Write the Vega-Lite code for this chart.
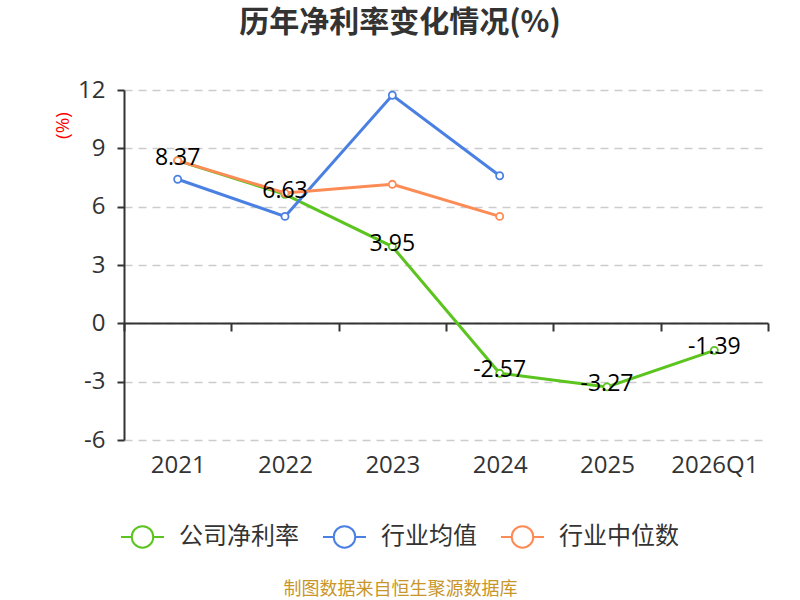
{
  "$schema": "https://vega.github.io/schema/vega-lite/v6.json",
  "autosize": {"type": "none"},
  "width": 644,
  "height": 350,
  "padding": {"left": 124, "top": 90, "right": 32, "bottom": 160},
  "background": "white",
  "config": {"font": "Open Sans, Noto Sans CJK SC", "view": {"stroke": null}},
  "title": {"text": "历年净利率变化情况(%)", "font": "Noto Sans CJK SC", "fontSize": 30, "fontWeight": "bold", "color": "#333333", "anchor": "middle", "dx": -46, "offset": 44, "baseline": "top", "dy": 4},
  "data": {"values": [
    {"year": "2021", "series": "公司净利率", "value": 8.37},
    {"year": "2022", "series": "公司净利率", "value": 6.63},
    {"year": "2023", "series": "公司净利率", "value": 3.95},
    {"year": "2024", "series": "公司净利率", "value": -2.57},
    {"year": "2025", "series": "公司净利率", "value": -3.27},
    {"year": "2026Q1", "series": "公司净利率", "value": -1.39},
    {"year": "2021", "series": "行业均值", "value": 7.41},
    {"year": "2022", "series": "行业均值", "value": 5.5},
    {"year": "2023", "series": "行业均值", "value": 11.73},
    {"year": "2024", "series": "行业均值", "value": 7.59},
    {"year": "2021", "series": "行业中位数", "value": 8.37},
    {"year": "2022", "series": "行业中位数", "value": 6.7},
    {"year": "2023", "series": "行业中位数", "value": 7.15},
    {"year": "2024", "series": "行业中位数", "value": 5.5}
  ]},
  "encoding": {
    "x": {
      "field": "year", "type": "ordinal", "sort": null,
      "scale": {"type": "band", "paddingInner": 0, "paddingOuter": 0, "domain": ["2021", "2022", "2023", "2024", "2025", "2026Q1"]},
      "axis": {
        "title": "制图数据来自恒生聚源数据库", "titleColor": "#c8962a", "titleFontSize": 18, "titleFontWeight": "normal", "titleFont": "Noto Sans CJK SC",
        "titleX": 276, "titleY": 266, "titleAlign": "center", "titleBaseline": "middle",
        "offset": -117, "domainColor": "#333333", "domainWidth": 2,
        "tickColor": "#333333", "tickWidth": 2, "tickSize": 8, "tickBand": "extent",
        "labelPadding": 122, "labelFontSize": 24, "labelColor": "#333333", "labelAngle": 0, "labelBaseline": "top", "grid": false
      }
    },
    "y": {
      "field": "value", "type": "quantitative",
      "scale": {"domain": [-6, 12], "nice": false, "zero": false},
      "axis": {
        "title": "(%)", "titleColor": "red", "titleFontSize": 19, "titleFontWeight": "normal", "titleAngle": -90,
        "titleX": -62, "titleY": 35, "titleAlign": "center", "titleBaseline": "middle",
        "values": [-6, -3, 0, 3, 6, 9, 12],
        "labelExpr": "replace(datum.label, '−', '-')",
        "domainColor": "#333333", "domainWidth": 2, "tickColor": "#333333", "tickWidth": 2, "tickSize": 7,
        "labelFontSize": 24, "labelColor": "#333333", "labelPadding": 12,
        "gridColor": "#cccccc", "gridDash": [8, 6], "gridWidth": 1.5
      }
    }
  },
  "layer": [
    {
      "mark": {"type": "line", "strokeWidth": 3},
      "encoding": {
        "color": {
          "field": "series", "type": "nominal",
          "scale": {"domain": ["公司净利率", "行业均值", "行业中位数"], "range": ["#5bc41f", "#4b80e3", "#fd8b55"]},
          "legend": {
            "title": null, "orient": "none", "direction": "horizontal", "legendX": -4, "legendY": 424,
            "symbolType": "M-1,0L-0.52,0M0.52,0L1,0M-0.5,0A0.5,0.5 0 1,1 0.5,0A0.5,0.5 0 1,1 -0.5,0",
            "symbolSize": 1849, "symbolStrokeWidth": 2, "symbolFillColor": "white",
            "labelFontSize": 24, "labelColor": "#333333", "labelFont": "Noto Sans CJK SC", "labelOffset": 14, "columnPadding": 20
          }
        }
      }
    },
    {
      "mark": {"type": "point", "filled": false, "fill": "white", "fillOpacity": 1, "opacity": 1, "size": 50, "strokeWidth": 1.8},
      "encoding": {"color": {"field": "series", "type": "nominal"}}
    },
    {
      "transform": [{"filter": "datum.series === '公司净利率'"}],
      "mark": {"type": "text", "fontSize": 23, "color": "#000000", "dy": -3},
      "encoding": {"text": {"field": "value", "type": "nominal"}}
    }
  ]
}
